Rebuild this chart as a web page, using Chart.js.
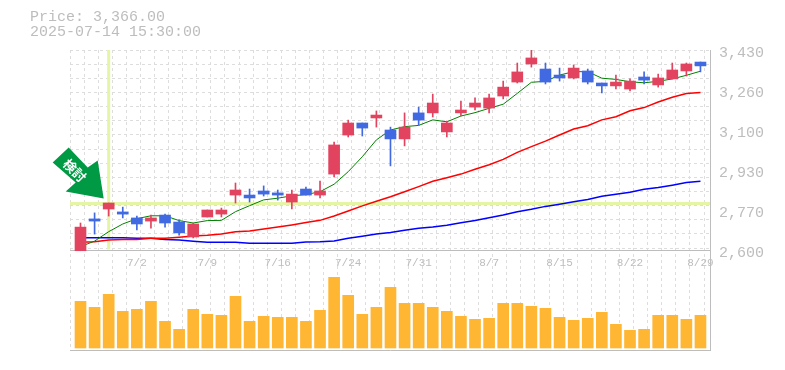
<!DOCTYPE html>
<html>
<head>
<meta charset="utf-8">
<script src="https://cdn.jsdelivr.net/npm/chart.js@4"></script>
<style>
  html, body { margin: 0; padding: 0; background: #fff; }
  #wrap { position: relative; width: 785px; height: 370px; overflow: hidden; }
  #info {
    position: absolute; left: 30px; top: 10px;
    font: 15px/15px "Liberation Mono", monospace;
    color: #bdbdbd; white-space: pre;
  }
</style>
</head>
<body>
<div id="wrap">
  <canvas id="stockChart" width="785" height="370"></canvas>
  <div id="info">Price: 3,366.00
2025-07-14 15:30:00</div>
</div>
<script>
const dates = ["6/26","6/27","6/30","7/1","7/2","7/3","7/4","7/7","7/8","7/9","7/10","7/11","7/14","7/15","7/16",
  "7/17","7/18","7/22","7/23","7/24","7/25","7/28","7/29","7/30","7/31","8/1","8/4","8/5","8/6","8/7",
  "8/8","8/12","8/13","8/14","8/15","8/18","8/19","8/20","8/21","8/22","8/25","8/26","8/27","8/28","8/29"];
const opens = [2597,2729,2770,2758,2733,2720,2745,2716,2654,2737,2749,2828,2828,2845,2837,
  2799,2853,2828,2915,3077,3127,3148,3098,3061,3169,3169,3090,3169,3193,3189,
  3239,3297,3372,3351,3326,3314,3343,3293,3281,3268,3318,3285,3310,3343,3380];
const closes = [2695,2720,2795,2749,2708,2733,2712,2671,2708,2766,2766,2849,2816,2832,2828,
  2832,2828,2845,3036,3127,3106,3160,3061,3110,3139,3210,3127,3181,3210,3231,
  3276,3339,3397,3297,3314,3355,3297,3281,3297,3301,3305,3314,3347,3372,3364];
const highs = [2712,2754,2795,2778,2741,2745,2749,2725,2712,2766,2774,2878,2853,2866,2849,
  2849,2861,2886,3048,3139,3127,3177,3110,3169,3193,3247,3135,3218,3231,3247,
  3301,3376,3430,3376,3355,3368,3351,3293,3326,3310,3339,3330,3376,3376,3380];
const lows = [2597,2666,2741,2733,2683,2691,2695,2662,2650,2737,2737,2795,2799,2824,2807,
  2770,2828,2816,2903,3069,3073,3110,2949,3032,3119,3152,3069,3156,3181,3169,
  3227,3293,3359,3289,3301,3310,3289,3252,3268,3260,3289,3276,3310,3322,3339];
const maShort = [2614,2637,2676,2708,2730,2742,2742,2722,2712,2722,2723,2759,2784,2808,2815,
  2825,2830,2842,2873,2925,2987,3057,3098,3112,3117,3140,3132,3156,3170,3188,
  3205,3250,3296,3300,3326,3340,3340,3313,3308,3298,3294,3300,3310,3325,3342];
const maMid = [2632,2634,2641,2644,2644,2649,2649,2653,2658,2661,2666,2676,2679,2687,2695,
  2704,2714,2723,2741,2762,2783,2802,2821,2842,2863,2885,2900,2915,2935,2954,
  2976,3005,3029,3052,3077,3102,3116,3140,3153,3178,3191,3214,3234,3249,3254];
const maLong = [2651,2651,2651,2651,2649,2649,2644,2641,2636,2632,2632,2632,2628,2628,2628,
  2628,2633,2634,2637,2649,2657,2666,2673,2682,2690,2695,2703,2713,2722,2734,
  2745,2759,2769,2781,2790,2800,2810,2823,2831,2840,2852,2859,2869,2880,2885];
const volumes = [4670,4070,5370,3670,3870,4670,2670,1870,3870,3370,3270,5170,2670,3170,3070,
  3070,2670,3770,7070,5270,3370,4070,6070,4470,4470,4070,3670,3170,2870,2970,
  4470,4470,4170,3970,3070,2770,2970,3570,2370,1770,1870,3270,3270,2870,3270];
const priceTicks = [3430,3264,3098,2932,2766,2600];
const dateTickIndexes = [4,9,14,19,24,29,34,39,44];
const markerIndex = 2;
const markerPrice = 2793;
const markerLabel = "検討";

const xMin = -0.745, xMax = 44.677;
const priceMax = 3430, priceMin = 2185;

const RED = "#e2435f", BLUE = "#4169e1", GRID = "#dddddd", AXIS = "#bdbdbd", TEXT = "#bdbdbd";
const points = arr => arr.map((v, i) => ({ x: i, y: v }));
const ranges = (a, b) => a.map((v, i) => ({ x: i, y: [v, b[i]] }));
const candleColors = opens.map((o, i) => closes[i] >= o ? RED : BLUE);

const gridXTicks = [];
for (let k = 0; k <= 45; k++) gridXTicks.push({ value: xMin + k });
const gridYTicks = [];
for (let k = 0; k < 15; k++) gridYTicks.push({ value: priceMax - k * 58.7 });

// arrow pointing at the marked candle, outline is relative to the crosshair
const arrowPlugin = {
  id: "arrow",
  afterDatasetsDraw(chart) {
    const { ctx, scales } = chart;
    const cx = scales.x.getPixelForValue(markerIndex);
    const cy = scales.yPrice.getPixelForValue(markerPrice);
    const outline = [[-5,-5],[-43,-12],[-33,-21],[-56,-41],[-40,-56],[-21,-36],[-11,-43]];
    ctx.save();
    ctx.translate(cx, cy);
    ctx.beginPath();
    outline.forEach(([px, py], i) => i ? ctx.lineTo(px, py) : ctx.moveTo(px, py));
    ctx.closePath();
    ctx.fillStyle = "#009944";
    ctx.fill();
    ctx.translate(-34, -33);
    ctx.rotate(Math.PI / 4);
    ctx.fillStyle = "#fff";
    ctx.font = "bold 13px 'Noto Sans CJK JP'";
    ctx.textAlign = "center";
    ctx.textBaseline = "middle";
    ctx.fillText(markerLabel, 0, 0);
    ctx.restore();
  }
};

new Chart(document.getElementById("stockChart"), {
  data: {
    datasets: [
      { type: "line", xAxisID: "x", yAxisID: "yPrice", data: [{ x: xMin, y: markerPrice }, { x: xMax, y: markerPrice }],
        borderColor: "#e4f5a5", borderWidth: 3, pointRadius: 0, order: 10 },
      { type: "line", xAxisID: "x", yAxisID: "yPrice", data: [{ x: markerIndex, y: 2602 }, { x: markerIndex, y: priceMax }],
        borderColor: "#e4f5a5", borderWidth: 3, pointRadius: 0, order: 10 },
      { type: "bar", xAxisID: "x", yAxisID: "yVol", data: points(volumes),
        backgroundColor: "#ffb733", barThickness: 11, grouped: false, order: 9 },
      { type: "line", xAxisID: "x", yAxisID: "yPrice", data: points(maLong),
        borderColor: "#0000ff", borderWidth: 1.5, pointRadius: 0, order: 8 },
      { type: "line", xAxisID: "x", yAxisID: "yPrice", data: points(maMid),
        borderColor: "#ff0000", borderWidth: 1.5, pointRadius: 0, order: 7 },
      { type: "line", xAxisID: "x", yAxisID: "yPrice", data: points(maShort),
        borderColor: "#008000", borderWidth: 1, pointRadius: 0, order: 6 },
      { type: "bar", xAxisID: "x", yAxisID: "yPrice", data: ranges(lows, highs),
        backgroundColor: candleColors, barThickness: 1, grouped: false, order: 5 },
      { type: "bar", xAxisID: "x", yAxisID: "yPrice", data: ranges(opens, closes),
        backgroundColor: candleColors, barThickness: 11, grouped: false, order: 4 }
    ]
  },
  options: {
    responsive: false,
    animation: false,
    devicePixelRatio: 1,
    layout: { padding: { left: 70, top: 50, right: 0, bottom: 20 } },
    plugins: { legend: { display: false }, tooltip: { enabled: false } },
    scales: {
      x: {
        type: "linear",
        position: "bottom",
        offset: false,
        min: xMin,
        max: xMax,
        afterBuildTicks: s => { s.ticks = gridXTicks.map(t => ({ ...t })); },
        afterFit: s => { s.height = 0; },
        ticks: { display: false, autoSkip: false },
        grid: { color: GRID, lineWidth: 1, drawTicks: false, tickLength: 0, offset: false },
        border: { color: AXIS, dash: [3, 3], width: 1 }
      },
      xDate: {
        type: "linear",
        position: { yPrice: 2600 },
        offset: false,
        min: xMin,
        max: xMax,
        afterBuildTicks: s => { s.ticks = dateTickIndexes.map(v => ({ value: v })); },
        ticks: {
          autoSkip: false,
          maxRotation: 0,
          padding: 6,
          color: TEXT,
          font: { family: "'Liberation Mono', monospace", size: 11 },
          callback: v => dates[v]
        },
        grid: { display: false, drawTicks: false },
        border: { color: AXIS, width: 1 }
      },
      yGrid: {
        type: "linear",
        position: "right",
        min: priceMin,
        max: priceMax,
        afterBuildTicks: s => { s.ticks = gridYTicks.map(t => ({ ...t })); },
        afterFit: s => { s.width = 0; },
        ticks: { display: false, autoSkip: false },
        grid: { color: GRID, lineWidth: 1, drawTicks: false, tickLength: 0 },
        border: { display: false, dash: [3, 3] }
      },
      yPrice: {
        type: "linear",
        position: "right",
        min: priceMin,
        max: priceMax,
        afterBuildTicks: s => { s.ticks = priceTicks.map(v => ({ value: v })); },
        afterFit: s => { s.width = 75; },
        ticks: {
          autoSkip: false,
          padding: 9,
          labelOffset: 3,
          color: TEXT,
          font: { family: "'Liberation Mono', monospace", size: 15 },
          callback: v => (Math.round(v / 10) * 10).toLocaleString("en-US")
        },
        grid: { display: false, drawTicks: false },
        border: { color: AXIS, width: 1 }
      },
      yVol: {
        type: "linear",
        display: false,
        min: -200,
        max: 29800
      }
    }
  },
  plugins: [arrowPlugin]
});
</script>
</body>
</html>
